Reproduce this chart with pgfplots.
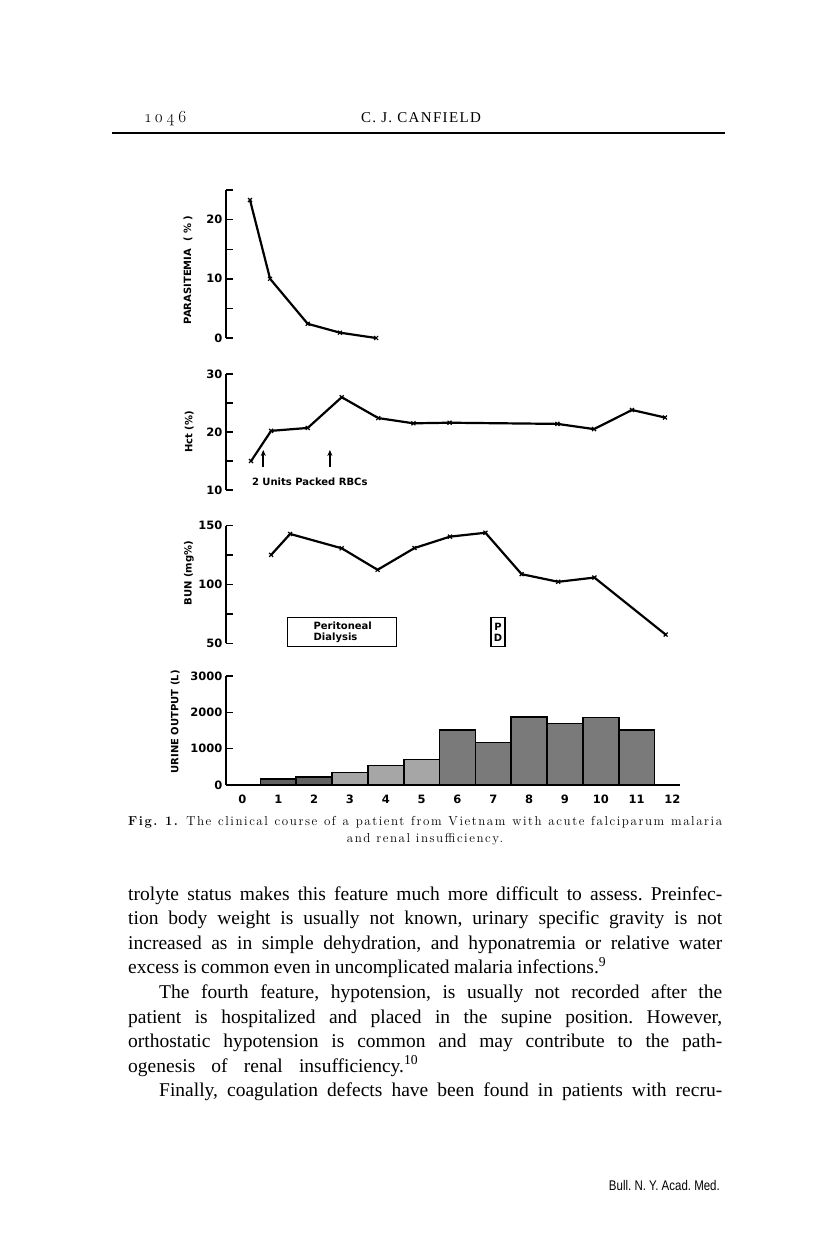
\documentclass[border=0pt]{standalone}
\usepackage{fontspec}
\setmainfont{Liberation Serif}
\newfontfamily\chartfont{DejaVu Sans}
\newfontfamily\footfont{Liberation Sans}
\newfontfamily\lmfont{Latin Modern Roman}[Numbers=OldStyle,LetterSpace=18]
\newfontfamily\capfont{Latin Modern Roman}[LetterSpace=12]
\usepackage{graphicx}
\usepackage{pgfplots}
\pgfplotsset{compat=1.18}
\usetikzlibrary{arrows.meta}
\frenchspacing

\newcommand{\cf}{\chartfont\bfseries\fontsize{10}{11}\selectfont}
\newcommand{\tf}{\chartfont\bfseries\fontsize{11.5}{12}\selectfont}
% one line of body text, spread to a given width
\newcommand{\bline}[4]{\node[anchor=base west,inner sep=0pt,font=\fontsize{19.5}{21}\selectfont] at (#1pt,-#2pt) {\makebox[#3pt][s]{#4}};}

\pgfplotsset{
  panel/.style={
    scale only axis, anchor=south west, clip=false,
    width=454pt, xmin=-0.46, xmax=12.21,
    axis y line=left,
    axis line style={-, line width=1.6pt},
    tick align=inside, major tick length=7pt, minor tick length=7pt,
    tick style={black, line width=1.4pt},
    /pgf/number format/assume math mode=true,
    /pgf/number format/1000 sep={},
    yticklabel style={font=\tf},
    xticklabel style={font=\tf},
    ylabel style={font=\cf, anchor=center, rotate=0},
  },
  curve/.style={black, line width=2.2pt, mark=x, mark size=2.8pt,
    mark options={line width=1.2pt}},
  urinebar/.style={ybar, bar width=1, bar shift=0pt, draw=black, line width=1.6pt},
}

\begin{document}
\begin{tikzpicture}
\fill[white] (0pt,0pt) rectangle (816pt,-1247pt);

% running head
\node[anchor=base west,inner sep=0pt] at (145pt,-122pt) {\lmfont\fontsize{17}{17}\selectfont 1046};
\node[anchor=base,inner sep=0pt] at (421pt,-122pt) {\fontsize{15}{15}\selectfont\addfontfeatures{LetterSpace=9}C. J. CANFIELD};
\draw[line width=1.5pt] (112pt,-133pt) -- (725pt,-133pt);

% parasitemia
\begin{axis}[panel, at={(226pt,-338pt)}, height=148pt,
  axis x line=none, xtick=\empty,
  ymin=0, ymax=25, ytick={0,10,20}, minor ytick={5,15,25},
  ylabel={PARASITEMIA \ ( \% )},
  ylabel style={at={(axis description cs:-0.0837,0.46)}}]
\addplot[curve] coordinates {(0.21,23.3) (0.77,10.0) (1.82,2.4) (2.72,0.9) (3.73,0.0)};
\end{axis}

% haematocrit
\begin{axis}[panel, at={(226pt,-490pt)}, height=116pt,
  axis x line=none, xtick=\empty,
  ymin=10, ymax=30, ytick={10,20,30}, minor ytick={15,25},
  ylabel={Hct (\%)},
  ylabel style={at={(axis description cs:-0.081,0.5)}}]
\addplot[curve] coordinates {(0.24,15.0) (0.80,20.2) (1.82,20.7) (2.77,26.0) (3.79,22.4)
  (4.77,21.5) (5.78,21.6) (8.79,21.4) (9.81,20.5) (10.87,23.8) (11.79,22.5)};
\draw[-{Stealth[length=6pt,width=5pt]}, line width=1.6pt] (axis cs:0.58,14.0) -- (axis cs:0.58,16.9);
\draw[-{Stealth[length=6pt,width=5pt]}, line width=1.6pt] (axis cs:2.44,14.0) -- (axis cs:2.44,16.9);
\node[anchor=west, inner sep=0pt, font=\cf] at (axis cs:0.26,11.5) {2 Units Packed RBCs};
\end{axis}

% BUN
\begin{axis}[panel, at={(226pt,-643.3pt)}, height=117.6pt,
  axis x line=none, xtick=\empty,
  ymin=50, ymax=150, ytick={50,100,150}, minor ytick={75,125},
  ylabel={BUN (mg\%)},
  ylabel style={at={(axis description cs:-0.0815,0.595)}}]
\addplot[curve] coordinates {(0.80,125.2) (1.33,143.0) (2.77,130.8) (3.77,112.5) (4.80,131.0)
  (5.79,140.7) (6.78,144.0) (7.79,108.8) (8.81,102.3) (9.82,105.9) (11.81,57.4)};
\draw[line width=1.4pt] (axis cs:1.26,47.1) rectangle (axis cs:4.30,71.8);
\node[anchor=west, align=left, inner sep=0pt, font=\chartfont\bfseries\fontsize{10}{11.5}\selectfont] at (axis cs:1.98,59.2) {Peritoneal\\Dialysis};
\draw[line width=1.4pt] (axis cs:6.93,47.1) rectangle (axis cs:7.33,71.8);
\node[align=center, inner sep=0pt, font=\chartfont\bfseries\fontsize{10}{11.5}\selectfont] at (axis cs:7.13,59.2) {P\\D};
\end{axis}

% urine output
\begin{axis}[panel, at={(226pt,-785pt)}, height=109pt,
  axis x line=bottom,
  x axis line style={-},
  ymin=0, ymax=3000, ytick={0,1000,2000,3000},
  xtick={0,1,2,3,4,5,6,7,8,9,10,11,12},
  major x tick style={draw=none},
  xticklabel style={yshift=-3pt},
  ylabel={URINE OUTPUT (L)},
  ylabel style={at={(axis description cs:-0.112,0.58)}}]
\addplot[urinebar, fill=black!62] coordinates {(1,160) (2,215)};
\addplot[urinebar, fill=black!35] coordinates {(3,345) (4,535) (5,700)};
\addplot[urinebar, fill=black!52] coordinates {(6,1520) (7,1170) (8,1865) (9,1690) (10,1855) (11,1520)};
\end{axis}

% caption
\node[anchor=base west,inner sep=0pt] at (128pt,-825pt) {\capfont\fontsize{13}{15}\selectfont\makebox[594pt][s]{\textbf{Fig. 1.} The clinical course of a patient from Vietnam with acute falciparum malaria}};
\node[anchor=base,inner sep=0pt] at (425pt,-842pt) {\capfont\fontsize{13}{15}\selectfont and renal insufficiency.};

% body text
\bline{128}{900}{594}{trolyte status makes this feature much more difficult to assess. Preinfec-}
\bline{128}{924.6}{594}{tion body weight is usually not known, urinary specific gravity is not}
\bline{128}{949.2}{594}{increased as in simple dehydration, and hyponatremia or relative water}
\bline{128}{973.8}{478}{excess is common even in uncomplicated malaria infections.\textsuperscript{9}}
\bline{159}{998.4}{563}{The fourth feature, hypotension, is usually not recorded after the}
\bline{128}{1023}{594}{patient is hospitalized and placed in the supine position. However,}
\bline{128}{1047.6}{594}{orthostatic hypotension is common and may contribute to the path-}
\bline{128}{1072.2}{290}{ogenesis of renal insufficiency.\textsuperscript{10}}
\bline{159}{1096.8}{563}{Finally, coagulation defects have been found in patients with recru-}

% footer
\node[anchor=base east,inner sep=0pt] at (720pt,-1190pt) {\footfont\fontsize{14}{14}\selectfont\scalebox{0.82}[1]{Bull. N. Y. Acad. Med.}};
\end{tikzpicture}
\end{document}
